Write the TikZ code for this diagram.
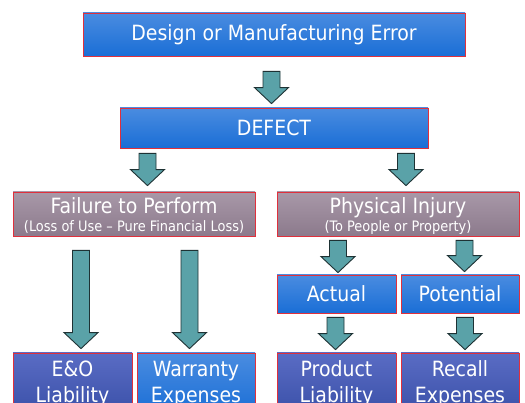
\documentclass[tikz,border=0pt]{standalone}
\usepackage{fontspec}
\setmainfont{DejaVu Sans Condensed}
\usetikzlibrary{calc}

\definecolor{boxblueA}{HTML}{4A8CE0}
\definecolor{boxblueB}{HTML}{1A6ED6}
\definecolor{boxgrayA}{HTML}{A898A8}
\definecolor{boxgrayB}{HTML}{8C7A8C}
\definecolor{boxnavyA}{HTML}{5A6CC4}
\definecolor{boxnavyB}{HTML}{3A50A8}
\definecolor{arrowfill}{HTML}{5AA2A8}
\definecolor{arrowline}{HTML}{1E3234}
\definecolor{boxline}{HTML}{E0303C}

\tikzset{
  box/.style={draw=boxline, line width=0.8pt, text=white, inner sep=0pt,
    font=\fontsize{21}{26}\selectfont},
  bluebox/.style={box, top color=boxblueA, bottom color=boxblueB, align=center},
  graybox/.style={box, top color=boxgrayA, bottom color=boxgrayB, align=center,
    font=\fontsize{21}{18}\selectfont, text height=36pt, text depth=0pt},
  navybox/.style={box, top color=boxnavyA, bottom color=boxnavyB, align=center},
  fatarrow/.style={fill=arrowfill, draw=arrowline, line width=0.9pt, line join=miter}
}

\newcommand{\subtxt}{\fontsize{14.4}{18}\selectfont}

% 太い矢印: #1 から #2 へ, x位置 #3, 上の隙間 #4, 下の隙間 #5
\newcommand{\fatarrow}[5]{%
  \draw[fatarrow] let \p1=(#1.south), \p2=(#2.north) in
    (#3pt-8.5pt,\y1-#4pt) -- (#3pt+8.5pt,\y1-#4pt) -- (#3pt+8.5pt,\y2+#5pt+16pt)
    -- (#3pt+17pt,\y2+#5pt+16pt) -- (#3pt,\y2+#5pt) -- (#3pt-17pt,\y2+#5pt+16pt)
    -- (#3pt-8.5pt,\y2+#5pt+16pt) -- cycle;}

\begin{document}
\begin{tikzpicture}[x=1pt,y=-1pt]
  \useasboundingbox (0,0) rectangle (525,403);

  % 上の二つ
  \node[bluebox, minimum width=382pt, minimum height=43pt] (err) at (274,34.5) {Design or Manufacturing Error};
  \node[bluebox, minimum width=308pt, minimum height=40pt] (defect) at (274,128) {DEFECT};

  % 二つ目の段
  \node[graybox, minimum width=242pt, minimum height=44pt] (fail) at (134,214)
    {Failure to Perform\\{\subtxt (Loss of Use – Pure Financial Loss)}};
  \node[graybox, minimum width=242pt, minimum height=44pt] (injury) at (398,214)
    {Physical Injury\\{\subtxt (To People or Property)}};

  \node[bluebox, minimum width=119pt, minimum height=38pt] (actual) at (336.5,294) {Actual};
  \node[bluebox, minimum width=118pt, minimum height=38pt] (potential) at (460,294) {Potential};

  % 下の段 (絵の外まで続く)
  \node[navybox, minimum width=119pt, minimum height=62pt] (eo) at (72.5,384) {E\&O\\Liability};
  \node[bluebox, minimum width=118pt, minimum height=62pt] (warranty) at (196,384) {Warranty\\Expenses};
  \node[navybox, minimum width=119pt, minimum height=62pt] (product) at (336.5,384) {Product\\Liability};
  \node[navybox, minimum width=118pt, minimum height=62pt] (recall) at (460,384) {Recall\\Expenses};

  % 矢印
  \fatarrow{err}{defect}{271.5}{15}{4}
  \fatarrow{defect}{fail}{147.5}{5}{6}
  \fatarrow{defect}{injury}{406}{5}{6}
  \fatarrow{fail}{eo}{81}{14}{4}
  \fatarrow{fail}{warranty}{189.5}{14}{4}
  \fatarrow{injury}{actual}{338}{4}{2}
  \fatarrow{injury}{potential}{464.5}{4}{3}
  \fatarrow{actual}{product}{335.5}{4}{3}
  \fatarrow{potential}{recall}{465}{4}{3}
\end{tikzpicture}
\end{document}
